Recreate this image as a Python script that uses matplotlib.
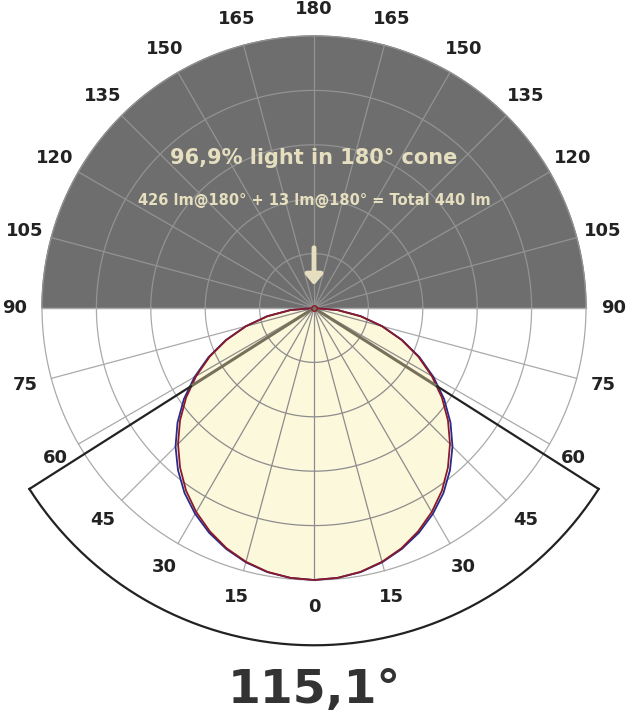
import numpy as np
import matplotlib
matplotlib.use("Agg")
import matplotlib.pyplot as plt

# data
angles_deg = [0, 5, 10, 15, 20, 25, 30, 35, 40, 45, 50, 55, 60, 65, 70, 75, 80, 85, 90]
red_vals = [1.00, 0.996, 0.985, 0.966, 0.94, 0.906, 0.866, 0.82, 0.766, 0.707, 0.643,
            0.574, 0.50, 0.423, 0.342, 0.259, 0.174, 0.087, 0.0]
blue_vals = [1.00, 0.996, 0.986, 0.968, 0.943, 0.912, 0.874, 0.83, 0.778, 0.72, 0.655,
             0.584, 0.507, 0.428, 0.345, 0.26, 0.175, 0.087, 0.0]
label_angles = [0, 15, 30, 45, 60, 75, 90, 105, 120, 135, 150, 165, 180]
beam_angle = 115.1
title1 = "96,9% light in 180° cone"
title2 = "426 lm@180° + 13 lm@180° = Total 440 lm"

fig = plt.figure(figsize=(6.29, 7.2), dpi=100)
ax = fig.add_axes([0, 0, 1, 1])
ax.set_xlim(0, 629); ax.set_ylim(720, 0); ax.axis("off")
cx, cy, R = 314, 308, 272

def pt(theta_deg, r):
    t = np.radians(theta_deg)
    return cx + R * r * np.sin(t), cy + R * r * np.cos(t)

t = np.linspace(90, 270, 200)
xs, ys = pt(t, 1.0)
ax.fill(xs, ys, color="#6e6e6e", zorder=1)
for rr in [0.2, 0.4, 0.6, 0.8, 1.0]:
    tb = np.linspace(-90, 90, 200)
    x, y = pt(tb, rr); ax.plot(x, y, color="#aaaaaa", lw=0.9, zorder=2)
    tt = np.linspace(90, 270, 200)
    x, y = pt(tt, rr); ax.plot(x, y, color="#939393", lw=0.9, zorder=2)
for a in range(0, 360, 15):
    x, y = pt(np.array([a, a]), np.array([0, 1.0]))
    c = "#aaaaaa" if (a <= 90 or a >= 270) else "#939393"
    ax.plot(x, y, color=c, lw=0.9, zorder=2)
ax.plot([cx - R, cx + R], [cy, cy], color="#aaaaaa", lw=0.9, zorder=2)

ang = np.array(angles_deg, float)
full_a = np.r_[-ang[::-1], ang[1:]]
for vals, col in [(blue_vals, "#2a2a8a"), (red_vals, "#8a1a2a")]:
    v = np.array(vals)
    full_v = np.r_[v[::-1], v[1:]]
    x, y = pt(full_a, full_v)
    if col == "#8a1a2a":
        ax.fill(x, y, color="#fcf8dc", zorder=3)
    ax.plot(x, y, color=col, lw=1.3, zorder=5)
for rr in [0.2, 0.4, 0.6, 0.8]:
    tb = np.linspace(-90, 90, 400)
    x, y = pt(tb, rr)
    rc = np.interp(np.abs(tb), ang, red_vals)
    m = rr <= rc
    ax.plot(np.where(m, x, np.nan), np.where(m, y, np.nan), color="#8c8c8c", lw=0.9, zorder=4)
for a in range(-90, 91, 15):
    rc = np.interp(abs(a), ang, red_vals)
    x, y = pt(np.array([a, a]), np.array([0, rc]))
    ax.plot(x, y, color="#8c8c8c", lw=0.9, zorder=4)

half = beam_angle / 2
rin = np.interp(half, ang, red_vals)
Rb = 1.24
for s in [-1, 1]:
    x, y = pt(np.array([s * half, s * half]), np.array([0, rin]))
    ax.plot(x, y, color="#77705a", lw=2.2, zorder=6)
    x, y = pt(np.array([s * half, s * half]), np.array([rin, Rb]))
    ax.plot(x, y, color="#222222", lw=1.6, zorder=6)
tb = np.linspace(-half, half, 200)
x, y = pt(tb, Rb)
ax.plot(x, y, color="#222222", lw=1.6, zorder=6)
ax.plot(cx, cy, "o", ms=4, mfc="none", mec="#8a1a2a", zorder=7)

for a in label_angles:
    for s in ([1] if a in (0, 180) else [-1, 1]):
        x, y = pt(s * a, 1.1)
        ax.text(x, y, str(a), ha="center", va="center", fontsize=13, fontweight="bold",
                color="#222222", zorder=8)

ax.text(cx, 158, title1, ha="center", va="center", fontsize=15, fontweight="bold",
        color="#e6dfbf", zorder=8)
ax.text(cx, 200, title2, ha="center", va="center", fontsize=10.5, fontweight="bold",
        color="#e6dfbf", zorder=8)
ax.annotate("", xy=(cx, 288), xytext=(cx, 245),
            arrowprops=dict(arrowstyle="-|>,head_width=0.5,head_length=0.6", lw=3.5,
                            color="#e6dfbf"), zorder=8)
ax.text(cx, 690, "115,1°", ha="center", va="center", fontsize=34, fontweight="bold",
        color="#333333")
fig.savefig("out.png", dpi=100)
